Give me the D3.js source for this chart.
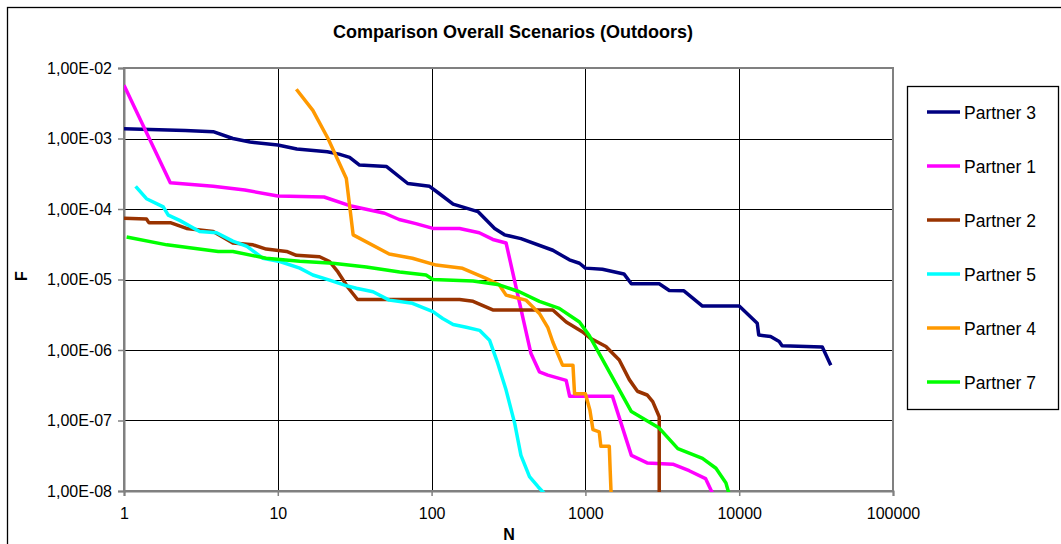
<!DOCTYPE html>
<html>
<head>
<meta charset="utf-8">
<script src="https://cdn.jsdelivr.net/npm/d3@7"></script>
<style>
    body { margin: 0; background: #fff; }
    svg { display: block; font-family: "Liberation Sans", Arial, sans-serif; }
</style>
</head>
<body>
<svg id="chart-svg" width="1061" height="544"></svg>
<script>

// values, [N, F]
const partner3 = [[1, 1.38e-3], [2.5, 1.3e-3], [3.8, 1.25e-3], [5.1, 1.0e-3], [6.6, 8.9e-4], [10, 8.1e-4],
    [13.3, 7.1e-4], [21, 6.5e-4], [25, 6.0e-4], [29.3, 5.4e-4], [34, 4.2e-4], [51, 4.0e-4], [70, 2.3e-4],
    [97, 2.1e-4], [112, 1.66e-4], [138, 1.17e-4], [200, 9.2e-5], [257, 5.3e-5], [298, 4.3e-5], [381, 3.8e-5],
    [614, 2.6e-5], [787, 1.9e-5], [915, 1.7e-5], [1000, 1.45e-5], [1290, 1.4e-5], [1780, 1.2e-5],
    [1990, 8.7e-6], [3020, 8.7e-6], [3510, 7.0e-6], [4370, 6.9e-6], [5770, 4.2e-6], [10000, 4.2e-6],
    [13100, 2.4e-6], [13400, 1.63e-6], [16000, 1.55e-6], [18200, 1.32e-6], [19000, 1.15e-6],
    [34700, 1.1e-6], [39400, 6.1e-7]];

const partner1 = [[1, 5.7e-3], [2, 2.35e-4], [3.8, 2.1e-4], [6.1, 1.86e-4], [10, 1.53e-4], [20, 1.48e-4],
    [30, 1.1e-4], [49.5, 8.7e-5], [61.5, 7.1e-5], [79, 6.2e-5], [102, 5.3e-5], [152, 5.3e-5], [204, 4.6e-5],
    [250, 3.7e-5], [305, 3.3e-5], [442, 9.0e-7], [502, 4.9e-7], [569, 4.4e-7], [750, 3.7e-7], [790, 2.2e-7],
    [1500, 2.2e-7], [1990, 3.2e-8], [2520, 2.5e-8], [3700, 2.4e-8], [4730, 1.94e-8], [6040, 1.5e-8],
    [6800, 8.7e-9]];

const partner2 = [[1, 7.4e-5], [1.4, 7.2e-5], [1.45, 6.4e-5], [2.0, 6.4e-5], [2.55, 5.3e-5], [3.8, 4.8e-5],
    [5.1, 3.3e-5], [6.9, 3.1e-5], [8.4, 2.7e-5], [11.4, 2.5e-5], [13.2, 2.2e-5], [18.7, 2.1e-5],
    [21.7, 1.8e-5], [24.6, 1.28e-5], [28.6, 7.7e-6], [33, 5.2e-6], [152, 5.2e-6], [186, 4.9e-6],
    [250, 3.7e-6], [614, 3.7e-6], [750, 2.5e-6], [960, 1.8e-6], [1070, 1.48e-6], [1360, 1.12e-6],
    [1660, 7.2e-7], [1930, 3.8e-7], [2180, 2.6e-7], [2520, 2.3e-7], [2740, 1.85e-7], [3020, 1.13e-7],
    [3020, 5e-9]];

const partner5 = [[1.19, 2.1e-4], [1.4, 1.4e-4], [1.8, 1.07e-4], [1.94, 8.2e-5], [2.3, 6.9e-5], [3.1, 4.8e-5],
    [4.0, 4.6e-5], [5.1, 3.5e-5], [6.3, 2.95e-5], [8.0, 2.0e-5], [10.3, 1.8e-5], [13.9, 1.45e-5],
    [16.9, 1.16e-5], [21.7, 9.8e-6], [27.2, 8.3e-6], [32.4, 7.5e-6], [41.6, 6.7e-6], [53, 5.1e-6],
    [75, 4.6e-6], [102, 3.5e-6], [118, 2.8e-6], [138, 2.3e-6], [168, 2.1e-6], [205, 1.9e-6], [238, 1.38e-6],
    [269, 6.5e-7], [305, 2.7e-7], [347, 9.1e-8], [381, 3.2e-8], [433, 1.6e-8], [492, 1.15e-8], [555, 8.7e-9]];

const partner4 = [[13.2, 5.0e-3], [16.9, 2.5e-3], [21.2, 1.0e-3], [27.9, 2.7e-4], [30.9, 4.3e-5], [53, 2.3e-5],
    [75, 2.0e-5], [107, 1.6e-5], [159, 1.44e-5], [226, 1.04e-5], [275, 8.4e-6], [305, 6.0e-6], [410, 5.1e-6],
    [502, 3.3e-6], [569, 2.1e-6], [614, 1.3e-6], [710, 6.1e-7], [830, 6.1e-7], [850, 2.4e-7], [1000, 2.4e-7],
    [1070, 1.4e-7], [1120, 7.4e-8], [1230, 6.9e-8], [1260, 4.3e-8], [1430, 4.3e-8], [1450, 1.9e-8],
    [1470, 9e-9]];

const partner7 = [[1.04, 4.0e-5], [1.9, 3.1e-5], [4.1, 2.5e-5], [5.1, 2.5e-5], [8.4, 2.0e-5], [13.9, 1.82e-5],
    [22.8, 1.7e-5], [37.6, 1.5e-5], [62, 1.28e-5], [92, 1.16e-5], [102, 1.0e-5], [186, 9.5e-6], [275, 8.4e-6],
    [372, 6.7e-6], [502, 4.9e-6], [676, 3.9e-6], [915, 2.5e-6], [1060, 1.6e-6], [1990, 1.34e-7],
    [3020, 7.8e-8], [3990, 4.0e-8], [5770, 2.9e-8], [7060, 2.1e-8], [8200, 1.3e-8], [8600, 9e-9]];

const seriesNames = ['Partner 3', 'Partner 1', 'Partner 2', 'Partner 5', 'Partner 4', 'Partner 7'];
const seriesData = [partner3, partner1, partner2, partner5, partner4, partner7];
const seriesColors = ['#000080', '#FF00FF', '#993300', '#00FFFF', '#FF9900', '#00FF00'];

const xTicks = [1, 10, 100, 1000, 10000, 100000];
const xTickLabels = ['1', '10', '100', '1000', '10000', '100000'];
const yTicks = [1e-2, 1e-3, 1e-4, 1e-5, 1e-6, 1e-7, 1e-8];
const yTickLabels = ['1,00E-02', '1,00E-03', '1,00E-04', '1,00E-05', '1,00E-06', '1,00E-07', '1,00E-08'];

const chartTitle = 'Comparison Overall Scenarios (Outdoors)';
const xTitle = 'N';
const yTitle = 'F';


let chartSVG = d3.select('#chart-svg');

// outer chart border (runs off the right / bottom of the picture)
chartSVG.append('rect')
    .attr('x', 7.5).attr('y', 7.5)
    .attr('width', 1070).attr('height', 560)
    .attr('fill', '#fff')
    .attr('stroke', '#000')
    .attr('stroke-width', 1.3);

let plotLeft = 124, plotRight = 893, plotTop = 68, plotBottom = 491;

let xScale = d3.scaleLog().domain([1, 100000]).range([plotLeft, plotRight]);
let yScale = d3.scaleLog().domain([1e-8, 1e-2]).range([plotBottom, plotTop]);

// gridlines
let grid = chartSVG.append('g');
grid.selectAll('.hgrid').data(yTicks.slice(1, -1)).enter().append('line')
    .attr('x1', plotLeft).attr('x2', plotRight)
    .attr('y1', d => Math.round(yScale(d)) + 0.5)
    .attr('y2', d => Math.round(yScale(d)) + 0.5)
    .attr('stroke', '#000').attr('stroke-width', 1);
grid.selectAll('.vgrid').data(xTicks.slice(1, -1)).enter().append('line')
    .attr('y1', plotTop).attr('y2', plotBottom)
    .attr('x1', d => Math.round(xScale(d)) + 0.5)
    .attr('x2', d => Math.round(xScale(d)) + 0.5)
    .attr('stroke', '#000').attr('stroke-width', 1);

// plot border
chartSVG.append('rect')
    .attr('x', plotLeft).attr('y', plotTop)
    .attr('width', plotRight - plotLeft).attr('height', plotBottom - plotTop)
    .attr('fill', 'none')
    .attr('stroke', '#808080')
    .attr('stroke-width', 2);

// axes
const yAxis = d3.axisLeft(yScale).tickValues(yTicks).tickSize(6).tickPadding(6)
    .tickFormat((d, i) => yTickLabels[i]);
const xAxis = d3.axisBottom(xScale).tickValues(xTicks).tickSize(5).tickPadding(12)
    .tickFormat((d, i) => xTickLabels[i]);

const yAxisGroup = chartSVG.append('g').attr('transform', 'translate(' + plotLeft + ',0)').call(yAxis);
const xAxisGroup = chartSVG.append('g').attr('transform', 'translate(0,' + plotBottom + ')').call(xAxis);

[yAxisGroup, xAxisGroup].forEach(g => {
    g.select('.domain').attr('stroke', '#808080').attr('stroke-width', 2);
    g.selectAll('.tick line').attr('stroke', '#808080').attr('stroke-width', 1.5);
    g.selectAll('text').attr('fill', '#000').style('font-size', '16px')
        .style('font-family', '"Liberation Sans", Arial, sans-serif');
});
yAxisGroup.selectAll('text').attr('x', -12);

// clip so lines that run below 1E-08 stop at the axis
chartSVG.append('defs').append('clipPath').attr('id', 'plot-clip')
    .append('rect').attr('x', plotLeft).attr('y', plotTop - 20)
    .attr('width', plotRight - plotLeft).attr('height', plotBottom - plotTop + 21);

let lineGenerator = d3.line()
    .x(d => xScale(d[0]))
    .y(d => yScale(d[1]));

let lines = chartSVG.append('g').attr('clip-path', 'url(#plot-clip)');
seriesData.forEach((data, i) => {
    lines.append('path')
        .attr('d', lineGenerator(data))
        .attr('fill', 'none')
        .attr('stroke', seriesColors[i])
        .attr('stroke-width', 3.5)
        .attr('stroke-linejoin', 'round');
});

// titles
chartSVG.append('text')
    .attr('x', 513).attr('y', 38)
    .attr('text-anchor', 'middle')
    .style('font-size', '18px').style('font-weight', 'bold')
    .text(chartTitle);

chartSVG.append('text')
    .attr('x', 509).attr('y', 540)
    .attr('text-anchor', 'middle')
    .style('font-size', '16px').style('font-weight', 'bold')
    .text(xTitle);

chartSVG.append('text')
    .attr('transform', 'translate(27,276) rotate(-90)')
    .attr('text-anchor', 'middle')
    .style('font-size', '16px').style('font-weight', 'bold')
    .text(yTitle);

// legend
let legend = chartSVG.append('g');
legend.append('rect')
    .attr('x', 907.5).attr('y', 86.5)
    .attr('width', 151).attr('height', 323)
    .attr('fill', '#fff')
    .attr('stroke', '#000').attr('stroke-width', 1.3);

let entry = legend.selectAll('.entry').data(seriesNames).enter().append('g')
    .attr('transform', (d, i) => 'translate(0,' + (112 + i * 54) + ')');
entry.append('line')
    .attr('x1', 927).attr('x2', 960)
    .attr('stroke', (d, i) => seriesColors[i])
    .attr('stroke-width', 3.5);
entry.append('text')
    .attr('x', 964).attr('y', 6.5)
    .style('font-size', '17.5px')
    .text(d => d);

</script>
</body>
</html>
